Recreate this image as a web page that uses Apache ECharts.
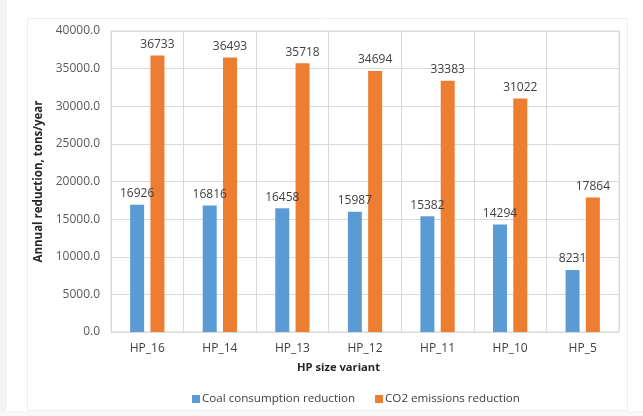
<!DOCTYPE html>
<html>
<head>
<meta charset="utf-8">
<script src="https://cdn.jsdelivr.net/npm/echarts@6/dist/echarts.min.js"></script>
<style>
  html, body { margin: 0; padding: 0; background: #ffffff; }
  #chart { width: 643px; height: 416px; }
</style>
</head>
<body>
<div id="chart"></div>
<script>
// Heat pump size variants and the annual reductions they achieve (tons/year)
const categories = ['HP_16', 'HP_14', 'HP_13', 'HP_12', 'HP_11', 'HP_10', 'HP_5'];
const coalReduction = [16926, 16816, 16458, 15987, 15382, 14294, 8231];
const co2Reduction = [36733, 36493, 35718, 34694, 33383, 31022, 17864];
const seriesNames = ['Coal consumption reduction', 'CO2 emissions reduction'];

const FONT = '"Open Sans", "Noto Sans", sans-serif';

const chart = echarts.init(document.getElementById('chart'), null, { renderer: 'canvas' });

const labelStyle = {
  show: true,
  position: 'top',
  distance: 5,
  fontFamily: FONT,
  fontSize: 12,
  color: '#404040'
};

chart.setOption({
  backgroundColor: '#ffffff',
  animation: false,
  graphic: [
    { type: 'rect', shape: { x: 0, y: 0, width: 7, height: 416 }, style: { fill: '#f3f3f3' }, z: -10 },
    { type: 'rect', shape: { x: 0, y: 411, width: 643, height: 5 }, style: { fill: '#f7f7f7' }, z: -10 },
    { type: 'rect', shape: { x: 27.5, y: 18.5, width: 600, height: 392 }, style: { fill: 'none', stroke: '#eeeeee', lineWidth: 1 }, z: -9 },
    {
      type: 'text', left: 297, top: 362, z: 10,
      style: { text: 'HP size variant', fontFamily: FONT, fontSize: 11.2, fontWeight: 'bold', fill: '#262626' }
    }
  ],
  grid: {
    left: 111, right: 24, top: 31, bottom: 84,
    show: true, borderColor: '#d9d9d9', borderWidth: 1
  },
  legend: {
    left: 187, top: 388,
    itemWidth: 8, itemHeight: 8, itemGap: 20,
    icon: 'rect',
    textStyle: { fontFamily: FONT, fontSize: 11.6, color: '#404040', padding: [0, 0, 0, -3] },
    data: seriesNames
  },
  xAxis: {
    type: 'category',
    data: categories,
    boundaryGap: true,
    axisLine: { show: false },
    axisTick: { show: false },
    axisLabel: { fontFamily: FONT, fontSize: 12, color: '#404040', margin: 11 },
    splitLine: { show: true, lineStyle: { color: '#d9d9d9', width: 1 } }
  },
  yAxis: {
    type: 'value',
    min: 0, max: 40000, interval: 5000,
    name: 'Annual reduction, tons/year',
    nameLocation: 'middle',
    nameGap: 64,
    nameTextStyle: { fontFamily: FONT, fontSize: 11.5, fontWeight: 'bold', color: '#262626' },
    axisLine: { show: false },
    axisTick: { show: false },
    axisLabel: {
      fontFamily: FONT, fontSize: 12, color: '#595959', margin: 11,
      formatter: v => v.toFixed(1)
    },
    splitLine: { show: true, lineStyle: { color: '#d9d9d9', width: 1 } }
  },
  series: [
    {
      name: seriesNames[0],
      type: 'bar',
      data: coalReduction,
      barWidth: 14,
      barGap: '45%',
      itemStyle: { color: '#5b9bd5' },
      label: labelStyle
    },
    {
      name: seriesNames[1],
      type: 'bar',
      data: co2Reduction,
      barWidth: 14,
      itemStyle: { color: '#ed7d31' },
      label: labelStyle
    }
  ]
});
</script>
</body>
</html>
